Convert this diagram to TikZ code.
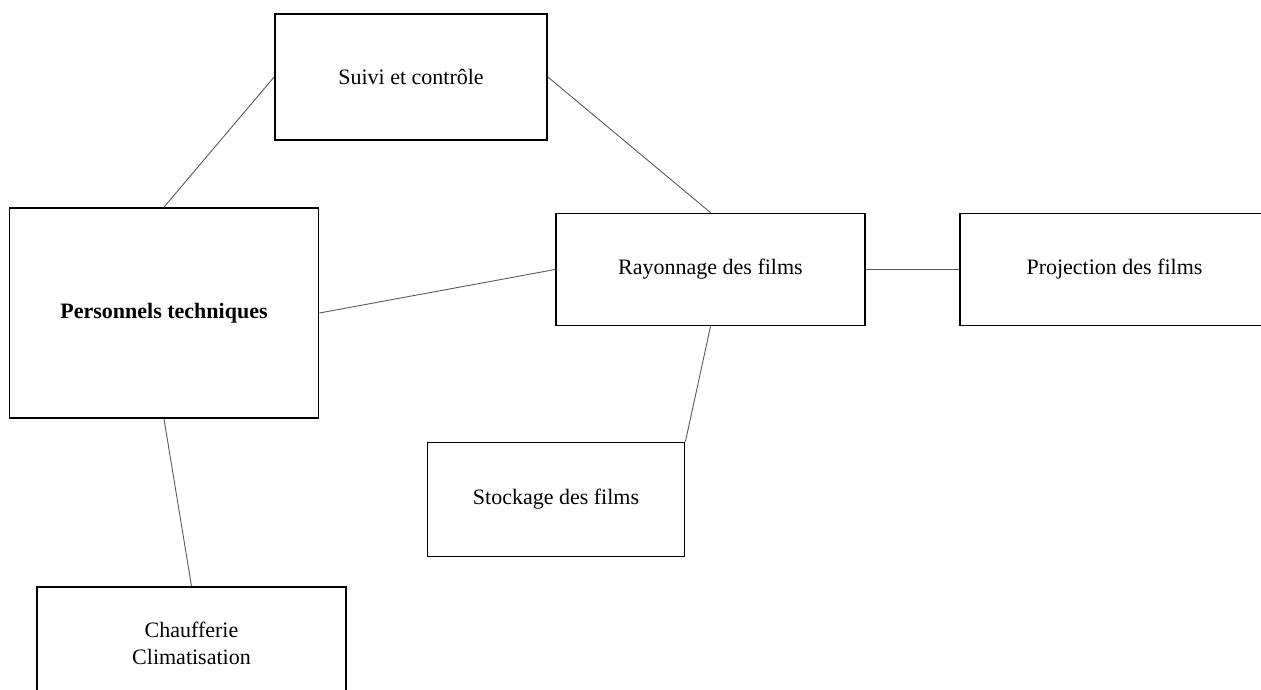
\documentclass[tikz,border=0pt]{standalone}
\usepackage{fontspec}
\setmainfont{Liberation Serif}
\begin{document}
\begin{tikzpicture}[x=1pt,y=-1pt,
  box/.style={draw=black,line width=1.8pt,rectangle,inner sep=0pt,
    align=center,font=\fontsize{22}{27}\selectfont},
  link/.style={draw=black!65,line width=0.9pt}]
  \useasboundingbox (0,0) rectangle (1261,690);
  \clip (0,0) rectangle (1261,690);
  % blocks (centre, width, height)
  \node[box,minimum width=272pt,minimum height=126pt] (suivi) at (411,77) {Suivi et contrôle};
  \node[box,minimum width=309pt,minimum height=210pt,font=\fontsize{22}{27}\selectfont\bfseries] (perso) at (164,313) {Personnels techniques};
  \node[box,minimum width=309pt,minimum height=112pt] (rayon) at (710.5,269.5) {Rayonnage des films};
  \node[box,minimum width=309pt,minimum height=112pt] (proj) at (1114.5,269.5) {Projection des films};
  \node[box,minimum width=257pt,minimum height=114pt] (stock) at (556,499.5) {Stockage des films};
  \node[box,minimum width=309pt,minimum height=112pt] (chauf) at (191.5,643) {Chaufferie\\Climatisation};
  % connectors
  \draw[link] (perso.north) -- (suivi.west);
  \draw[link] (suivi.east) -- (rayon.north);
  \draw[link] (perso.east) -- (rayon.west);
  \draw[link] (rayon.east) -- (proj.west);
  \draw[link] (rayon.south) -- (stock.north east);
  \draw[link] (perso.south) -- (chauf.north);
\end{tikzpicture}
\end{document}
